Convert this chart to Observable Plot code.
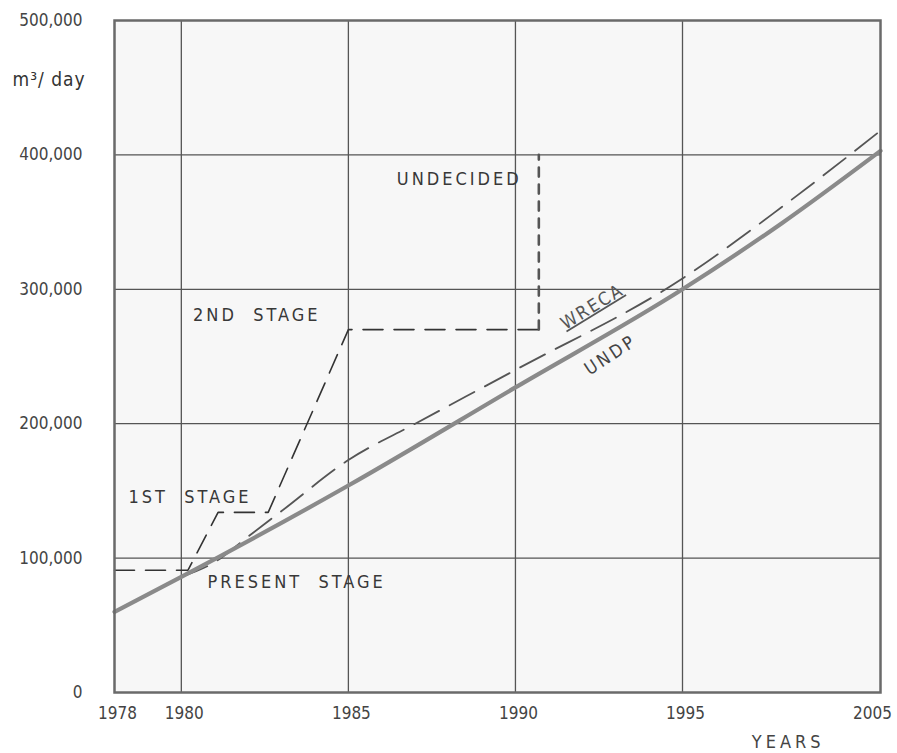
<!DOCTYPE html>
<html>
<head>
<meta charset="utf-8">
<script src="https://cdn.jsdelivr.net/npm/d3@7"></script>
<script src="https://cdn.jsdelivr.net/npm/@observablehq/plot@0.6"></script>
<style>
  body { margin: 0; background: #ffffff; }
  #chart svg { display: block; }
</style>
</head>
<body>
<div id="chart"></div>
<script>
// ---- data ----
const undpYears  = [1978, 1980, 1985, 1990, 1995, 2000, 2005];
const undpValues = [60000, 86000, 154000, 227000, 300000, 349000, 403000];

const wrecaYears  = [1980, 1981, 1982, 1983, 1985, 1987, 1990, 1995, 2000, 2005];
const wrecaValues = [86000, 97000, 116000, 135000, 173000, 200000, 240000, 308000, 361000, 418000];

const stageYears  = [1978, 1980.2, 1981.1, 1982.6, 1985, 1990.7];
const stageValues = [91000, 91000, 134000, 134000, 270000, 270000];

const undecidedYears  = [1990.7, 1990.7];
const undecidedValues = [270000, 400000];

const xTicks    = [1978, 1980, 1985, 1990, 1995, 2005];
const gridYears = [1980, 1985, 1990, 1995];
const yTicks    = [0, 100000, 200000, 300000, 400000, 500000];

const labelTexts  = ["UNDECIDED", "2ND\u00a0\u00a0STAGE", "1ST\u00a0\u00a0STAGE", "PRESENT\u00a0\u00a0STAGE"];
const labelYears  = [1986.45, 1980.35, 1978.42, 1980.78];
const labelValues = [382000, 281000, 145500, 82000];

// ---- tables built from the arrays ----
const undp = undpYears.map((x, i) => ({x, y: undpValues[i]}));
const wreca = wrecaYears.map((x, i) => ({x, y: wrecaValues[i]}));
const stages = stageYears.map((x, i) => ({x, y: stageValues[i]}));
const undecided = undecidedYears.map((x, i) => ({x, y: undecidedValues[i]}));
const labels = labelTexts.map((t, i) => ({t, x: labelYears[i], y: labelValues[i]}));

const font = "'DejaVu Sans Condensed','DejaVu Sans',sans-serif";

const chart = Plot.plot({
  width: 897,
  height: 753,
  marginLeft: 114,
  marginRight: 17,
  marginTop: 20,
  marginBottom: 61,
  style: {fontFamily: font, fontSize: "17px", color: "#444", background: "#ffffff", overflow: "visible"},
  x: {type: "linear", domain: [1978, 1995, 2005], range: [114, 682, 880], axis: null},
  y: {domain: [0, 500000], ticks: yTicks, tickFormat: d3.format(","), tickSize: 0, tickPadding: 32, label: null},
  marks: [
    Plot.frame({fill: "#f7f7f7", stroke: "none"}),
    Plot.ruleX(gridYears, {stroke: "#555", strokeWidth: 1.3}),
    Plot.ruleY(yTicks.slice(1, -1), {stroke: "#555", strokeWidth: 1.3}),
    // stage steps
    Plot.line(stages, {x: "x", y: "y", stroke: "#333", strokeWidth: 1.6, strokeDasharray: "20,11"}),
    Plot.line(undecided, {x: "x", y: "y", stroke: "#555", strokeWidth: 2.6, strokeDasharray: "9,8"}),
    // WRECA projection
    Plot.line(wreca, {x: "x", y: "y", curve: "monotone-x", stroke: "#555", strokeWidth: 1.8, strokeDasharray: "28,12"}),
    // UNDP projection
    Plot.line(undp, {x: "x", y: "y", curve: "monotone-x", stroke: "#8a8a8a", strokeWidth: 4.2}),
    // annotations
    Plot.text(labels, {x: "x", y: "y", text: "t", textAnchor: "start", fill: "#383838", fontSize: 18}),
    Plot.text(["WRECA"], {x: 1992.3, y: 287000, text: d => d, rotate: -31.5, fill: "#555", fontSize: 18}),
    Plot.text(["UNDP"], {x: 1992.85, y: 251000, text: d => d, rotate: -33, fill: "#444", fontSize: 18}),
    // x tick labels
    Plot.text(xTicks.filter(d => d < 2005), {x: d => d, frameAnchor: "bottom", dy: 26, dx: 3, text: d => String(d), fill: "#444", fontSize: 17}),
    Plot.text(xTicks.filter(d => d >= 2005), {x: d => d, frameAnchor: "bottom", dy: 26, dx: -8, text: d => String(d), fill: "#444", fontSize: 17}),
    // unit and axis title
    Plot.text(["m\u00b3/ day"], {frameAnchor: "top-left", dx: -102, dy: 52, textAnchor: "start", text: d => d, fill: "#333", fontSize: 19}),
    Plot.text(["YEARS"], {frameAnchor: "bottom-right", dx: -56, dy: 55, textAnchor: "end", text: d => d, fill: "#444", fontSize: 18}),
    Plot.frame({stroke: "#6a6a6a", strokeWidth: 2.5})
  ]
});

// lettering details
chart.querySelectorAll("text").forEach(t => {
  const s = t.textContent;
  if (s === "WRECA") { t.style.textDecoration = "underline"; t.style.letterSpacing = "2px"; }
  if (s === "UNDP") { t.style.letterSpacing = "3px"; }
  if (labelTexts.includes(s)) { t.style.letterSpacing = "3px"; }
  if (s === "YEARS") { t.style.letterSpacing = "4px"; }
  if (s === "m\u00b3/ day") { t.style.letterSpacing = "1px"; }
});

document.getElementById("chart").appendChild(chart);
</script>
</body>
</html>
